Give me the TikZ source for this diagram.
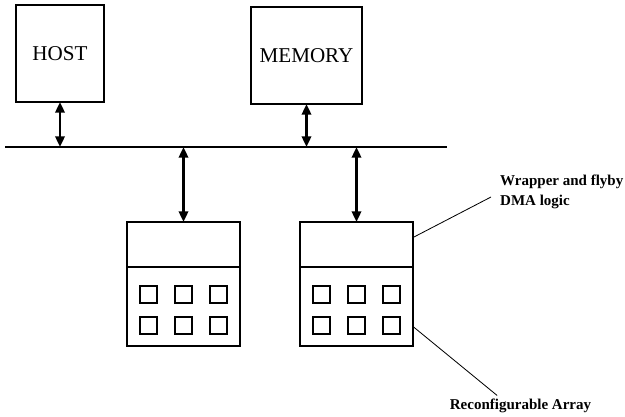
\documentclass[tikz,border=0pt]{standalone}
\usepackage{fontspec}
\setmainfont{Liberation Serif}
\usetikzlibrary{arrows.meta,positioning,calc}
\definecolor{ink}{HTML}{000000}
\definecolor{paper}{HTML}{FFFFFF}
\tikzset{
  unit/.style={draw=ink, fill=paper, line width=2.4pt, inner sep=0pt, outer sep=0pt,
               font=\fontsize{18}{20}\selectfont},
  part/.style={draw=ink, line width=2.4pt, inner sep=0pt, outer sep=0pt,
               minimum width=3.39cm},
  cell/.style={draw=ink, line width=2pt, minimum size=0.5cm, inner sep=0pt},
  busline/.style={draw=ink, line width=2.2pt},
  link/.style={{Triangle[length=3.2mm,width=2.8mm]}-{Triangle[length=3.2mm,width=2.8mm]},
               line width=2pt, draw=ink},
  leader/.style={draw=ink, line width=0.7pt},
  tag/.style={font=\bfseries\fontsize{12.8}{17}\selectfont, align=left, inner sep=0pt}
}
\begin{document}
\begin{tikzpicture}[x=0.03cm,y=-0.03cm]
        \useasboundingbox[fill=paper] (0,0) rectangle (625,416);
        % top units and bus
        \node[unit,minimum width=2.64cm,minimum height=2.91cm] (host) at (60,53.5) {HOST};
        \node[unit,minimum width=3.33cm,minimum height=2.91cm] (mem) at (306.5,55.5) {MEMORY};
        \coordinate (busL) at (5,147);
        \coordinate (busR) at (447,147);
        \draw[busline] (busL) -- (busR);
        % reconfigurable units
        \node[part,minimum height=1.35cm] (wrapL) at (183.5,244.5) {};
        \node[part,minimum height=2.37cm,below=0pt of wrapL] (arrL) {};
        \node[part,minimum height=1.35cm] (wrapR) at (356.5,244.5) {};
        \node[part,minimum height=2.37cm,below=0pt of wrapR] (arrR) {};
        \foreach \a in {arrL,arrR} {
          \foreach \dx in {-35,0,35} {
            \foreach \dy in {-12,19} {
              \node[cell] at ($(\a.center)+(\dx,\dy)$) {};
            }
          }
        }
        % bus links
        \draw[link] (host.south) -- (host.south |- busL);
        \draw[link] (mem.south) -- (mem.south |- busL);
        \draw[link] (wrapL.north |- busL) -- (wrapL.north);
        \draw[link] (wrapR.north |- busL) -- (wrapR.north);
        % labels
        \node[tag,anchor=west] (wraptag) at (500,192) {Wrapper and flyby\\DMA logic};
        \node[tag] (arrtag) at (520.5,406) {Reconfigurable Array};
        \draw[leader] ([yshift=0.21cm]wrapR.east) -- ([xshift=-0.27cm,yshift=-0.15cm]wraptag.west);
        \draw[leader] ([yshift=-0.6cm]arrR.east) -- ([xshift=-0.7cm,yshift=0.1cm]arrtag.north);
      \end{tikzpicture}
\end{document}
